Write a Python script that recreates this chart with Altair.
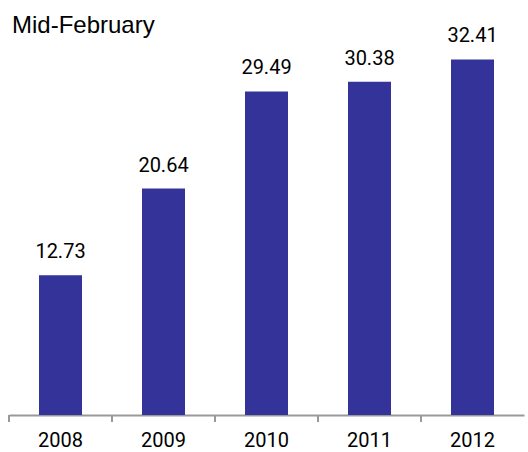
import altair as alt
import pandas as pd

years = ["2008", "2009", "2010", "2011", "2012"]
values = [12.73, 20.64, 29.49, 30.38, 32.41]
labels = ["12.73", "20.64", "29.49", "30.38", "32.41"]

df = pd.DataFrame({"year": years, "value": values, "label": labels})

TFONT = "Liberation Sans"
FONT = "Roboto"

xscale = alt.Scale(paddingInner=0, paddingOuter=0, domain=years)
x = alt.X("year:N", sort=years, title=None, scale=xscale,
          axis=alt.Axis(labelAngle=0, labelFont=FONT, labelFontSize=20, labelColor="#000",
                        labelPadding=15, ticks=False, domainColor="#999", domainWidth=2))
y = alt.Y("value:Q", scale=alt.Scale(domain=[0, 35], nice=False), axis=None)

base = alt.Chart(df).encode(x=x, y=y)
bars = base.mark_bar(color="#333399", width=43)
text = base.mark_text(baseline="alphabetic", dy=-17, font=FONT, fontSize=20, color="#000").encode(text="label:N")
ticks = alt.Chart(df).mark_rule(color="#999", strokeWidth=2).encode(
    x=alt.X("year:N", sort=years, scale=xscale, bandPosition=0),
    y=alt.value(384), y2=alt.value(391))

chart = (bars + text + ticks).properties(
    width=515, height=384,
    title=alt.TitleParams("Mid-February", anchor="start", font=TFONT, fontSize=24,
                          fontWeight="normal", color="#000", baseline="alphabetic",
                          offset=0, dx=4, dy=31),
    autosize=alt.AutoSizeParams(type="none"),
    padding={"left": 9, "top": 31, "right": 4, "bottom": 37},
).configure_view(stroke=None)

chart.save("out.html", embed_options={"renderer": "svg", "actions": False})
